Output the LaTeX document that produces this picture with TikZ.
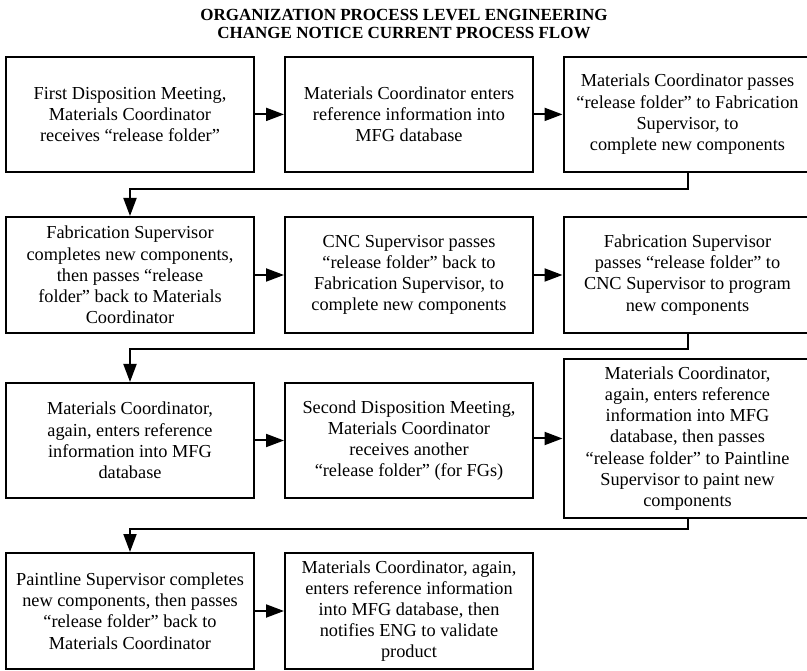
\documentclass[tikz,border=0pt]{standalone}
\usepackage{fontspec}
\setmainfont{Liberation Serif}
\usetikzlibrary{arrows.meta}
\begin{document}
\begin{tikzpicture}[x=1pt,y=-1pt,
  stepbox/.style={draw, line width=2pt, minimum width=248pt, inner sep=2pt,
    align=center, font=\fontsize{18.3}{21.2}\selectfont},
  flow/.style={line width=2pt, -{Triangle[length=18pt,width=13pt]}},
  heading/.style={align=center, font=\fontsize{17}{18.5}\selectfont\bfseries}]
\useasboundingbox (0,0) rectangle (807,671);
\fill[white] (0,0) rectangle (807,671);

% heading
\node[heading] (title) at (404,24)
  {ORGANIZATION PROCESS LEVEL ENGINEERING\\CHANGE NOTICE CURRENT PROCESS FLOW};

% row 1
\node[stepbox, minimum height=115pt] (b1) at (130,114.4)
  {First Disposition Meeting,\\Materials Coordinator\\receives “release folder”};
\node[stepbox, minimum height=115pt] (b2) at (409,114.4)
  {Materials Coordinator enters\\reference information into\\MFG database};
\node[stepbox, minimum height=115pt] (b3) at (687.5,114.4)
  {Materials Coordinator passes\\“release folder” to Fabrication\\Supervisor, to\\complete new components};

% row 2
\node[stepbox, minimum height=116pt] (b4) at (130,275)
  {Fabrication Supervisor\\completes new components,\\then passes “release\\folder” back to Materials\\Coordinator};
\node[stepbox, minimum height=116pt] (b5) at (409,275)
  {CNC Supervisor passes\\“release folder” back to\\Fabrication Supervisor, to\\complete new components};
\node[stepbox, minimum height=116pt] (b6) at (687.5,275)
  {Fabrication Supervisor\\passes “release folder” to\\CNC Supervisor to program\\new components};

% row 3
\node[stepbox, minimum height=115pt] (b7) at (130,440.5)
  {Materials Coordinator,\\again, enters reference\\information into MFG\\database};
\node[stepbox, minimum height=115pt] (b8) at (409,440.5)
  {Second Disposition Meeting,\\Materials Coordinator\\receives another\\“release folder” (for FGs)};
\node[stepbox, minimum height=159pt] (b9) at (687.5,438.5)
  {Materials Coordinator,\\again, enters reference\\information into MFG\\database, then passes\\“release folder” to Paintline\\Supervisor to paint new\\components};

% row 4
\node[stepbox, minimum height=116pt] (b10) at (130,611)
  {Paintline Supervisor completes\\new components, then passes\\“release folder” back to\\Materials Coordinator};
\node[stepbox, minimum height=116pt] (b11) at (409,611)
  {Materials Coordinator, again,\\enters reference information\\into MFG database, then\\notifies ENG to validate\\product};

% turn points of the row-to-row connectors
\coordinate (j1) at (400,189.5);
\coordinate (j2) at (400,349.5);
\coordinate (j3) at (400,529);

% connectors
\draw[flow] (b1) -- (b2);
\draw[flow] (b2) -- (b3);
\draw[flow] (b3.south) |- (j1) -| (b4.north);
\draw[flow] (b4) -- (b5);
\draw[flow] (b5) -- (b6);
\draw[flow] (b6.south) |- (j2) -| (b7.north);
\draw[flow] (b7) -- (b8);
\draw[flow] (b8.east |- b9.west) -- (b9.west);
\draw[flow] (b9.south) |- (j3) -| (b10.north);
\draw[flow] (b10) -- (b11);
\end{tikzpicture}
\end{document}
